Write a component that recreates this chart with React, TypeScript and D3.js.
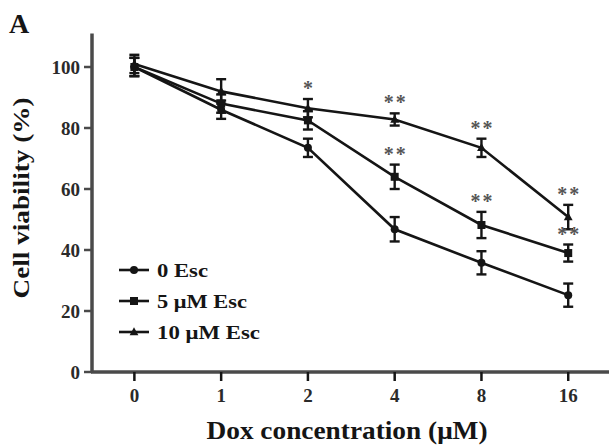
import { useEffect, useRef } from 'react'
import * as d3 from 'd3'

const doses = ['0', '1', '2', '4', '8', '16']
const seriesNames = ['0 Esc', '5 μM Esc', '10 μM Esc']
const esc0 = [100, 86, 73.5, 46.8, 35.8, 25.2]
const esc0Err = [3, 3, 3, 4, 3.8, 3.8]
const esc5 = [100, 88, 82.5, 64, 48.2, 39]
const esc5Err = [3, 3, 3, 4, 4.3, 2.8]
const esc10 = [101, 92, 86.5, 82.8, 73.5, 50.8]
const esc10Err = [3, 4, 3, 2, 3, 4]
// significance marks: [dose index, series index, label]
const stars: [number, number, string][] = [
  [2, 2, '*'], [3, 2, '**'], [3, 1, '**'], [4, 2, '**'], [4, 1, '**'], [5, 2, '**'], [5, 1, '**'],
]
const yTicks = [0, 20, 40, 60, 80, 100]

export default function App() {
  const svgRef = useRef<SVGSVGElement>(null)
  const width = 609
  const height = 445

  useEffect(() => {
    const el = svgRef.current
    if (!el) return
    document.body.style.margin = '0'

    const values = [esc0, esc5, esc10]
    const errs = [esc0Err, esc5Err, esc10Err]
    const ink = '#151515'
    const axisCol = '#4a4a4a'
    const font = '"Liberation Serif", "Times New Roman", serif'

    const x = d3.scaleLinear().domain([-0.5, 5.47]).range([91, 609])
    const y = d3.scaleLinear().domain([0, 100]).range([372, 67])

    const svg = d3.select(el)
    svg.selectAll('*').remove()

    // axes
    svg.append('line').attr('x1', 92).attr('x2', 92).attr('y1', y(111)).attr('y2', 373)
      .attr('stroke', axisCol).attr('stroke-width', 3.5)
    svg.append('line').attr('x1', 91).attr('x2', 609).attr('y1', 372).attr('y2', 372)
      .attr('stroke', axisCol).attr('stroke-width', 3.5)

    yTicks.forEach(t => {
      svg.append('line').attr('x1', 84).attr('x2', 92).attr('y1', y(t)).attr('y2', y(t))
        .attr('stroke', axisCol).attr('stroke-width', 2.5)
      svg.append('text').attr('x', 80).attr('y', y(t)).attr('dy', '0.35em')
        .attr('text-anchor', 'end').attr('font-family', font).attr('font-weight', 'bold')
        .attr('font-size', 19).attr('fill', '#2a2a2a').text(t)
    })
    doses.forEach((d, i) => {
      svg.append('line').attr('x1', x(i)).attr('x2', x(i)).attr('y1', 372).attr('y2', 381)
        .attr('stroke', ink).attr('stroke-width', 2.5)
      svg.append('text').attr('x', x(i)).attr('y', 395).attr('dy', '0.35em')
        .attr('text-anchor', 'middle').attr('font-family', font).attr('font-weight', 'bold')
        .attr('font-size', 19).attr('fill', '#2a2a2a').text(d)
    })

    // titles
    svg.append('text').attr('x', 347).attr('y', 430).attr('dy', '0.35em')
      .attr('text-anchor', 'middle').attr('font-family', font).attr('font-weight', 'bold')
      .attr('font-size', 25).attr('textLength', 281).attr('lengthAdjust', 'spacingAndGlyphs')
      .attr('fill', ink).text('Dox concentration (μM)')
    svg.append('text').attr('transform', 'translate(21,198) rotate(-90)').attr('dy', '0.35em')
      .attr('text-anchor', 'middle').attr('font-family', font).attr('font-weight', 'bold')
      .attr('font-size', 23).attr('textLength', 201).attr('lengthAdjust', 'spacingAndGlyphs')
      .attr('fill', ink).text('Cell viability (%)')
    svg.append('text').attr('x', 9).attr('y', 33)
      .attr('font-family', font).attr('font-weight', 'bold')
      .attr('font-size', 28).attr('fill', ink).text('A')

    const line = d3.line<number>().x((_, i) => x(i)).y(v => y(v))

    const drawMarker = (g: d3.Selection<SVGGElement, unknown, null, undefined>, s: number, cx: number, cy: number, r: number) => {
      if (s === 0) g.append('circle').attr('cx', cx).attr('cy', cy).attr('r', r).attr('fill', ink)
      else if (s === 1) g.append('rect').attr('x', cx - r).attr('y', cy - r).attr('width', 2 * r).attr('height', 2 * r).attr('fill', ink)
      else g.append('path').attr('d', `M${cx},${cy - r * 1.2}L${cx + r * 1.1},${cy + r * 0.8}L${cx - r * 1.1},${cy + r * 0.8}Z`).attr('fill', ink)
    }

    const g = svg.append('g')
    values.forEach((vals, s) => {
      g.append('path').datum(vals).attr('d', line).attr('fill', 'none')
        .attr('stroke', ink).attr('stroke-width', 2.6)
      vals.forEach((v, i) => {
        const e = errs[s][i]
        const cx = x(i)
        g.append('line').attr('x1', cx).attr('x2', cx).attr('y1', y(v + e)).attr('y2', y(v - e))
          .attr('stroke', ink).attr('stroke-width', 2.4)
        ;[v + e, v - e].forEach(w => {
          g.append('line').attr('x1', cx - 5).attr('x2', cx + 5).attr('y1', y(w)).attr('y2', y(w))
            .attr('stroke', ink).attr('stroke-width', 2.4)
        })
        drawMarker(g, s, cx, y(v), 4)
      })
    })

    // significance stars
    stars.forEach(([i, s, label]) => {
      const v = values[s][i] + errs[s][i]
      svg.append('text').attr('x', x(i) + 1).attr('y', y(v) - 4)
        .attr('text-anchor', 'middle').attr('font-family', font).attr('font-weight', 'bold')
        .attr('font-size', 20).attr('letter-spacing', 2).attr('fill', '#555').text(label)
    })

    // legend
    const legendWidths = [51, 90, 103]
    seriesNames.forEach((name, s) => {
      const ly = 270 + s * 31
      svg.append('line').attr('x1', 119).attr('x2', 149).attr('y1', ly).attr('y2', ly)
        .attr('stroke', ink).attr('stroke-width', 2.6)
      drawMarker(svg.append('g'), s, 134, ly, 4)
      svg.append('text').attr('x', 157).attr('y', ly).attr('dy', '0.35em')
        .attr('font-family', font).attr('font-weight', 'bold')
        .attr('font-size', 19).attr('textLength', legendWidths[s]).attr('lengthAdjust', 'spacingAndGlyphs')
        .attr('fill', ink).text(name)
    })
  }, [])

  return (
    <svg ref={svgRef} width={width} height={height}
      style={{ display: 'block', background: '#fff' }} />
  )
}
